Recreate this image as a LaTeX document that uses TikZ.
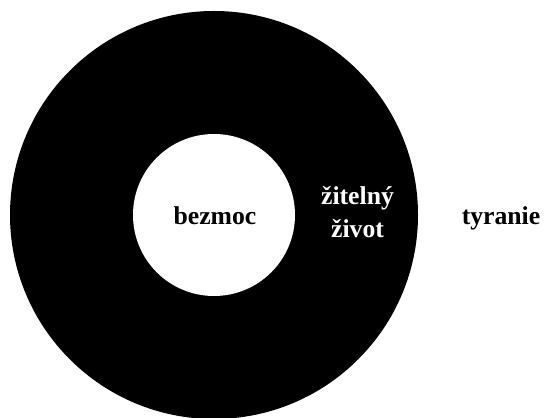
\documentclass[tikz,border=0pt]{standalone}
\usepackage{fontspec}
\setmainfont{Liberation Serif}
\begin{document}
\begin{tikzpicture}[x=1pt,y=1pt,
  label/.style={font=\fontsize{25.7}{33}\selectfont\bfseries, inner sep=0pt},
  ring/.style={fill=black, draw=none}]
\useasboundingbox (0,0) rectangle (545,417);
% outer disc and inner hole
\fill[ring] (214,202) circle[radius=204];
\fill[white] (214,202) circle[radius=81];
\node[label, anchor=base] (bezmoc) at (215,192) {bezmoc};
\node[label, anchor=base, text=white, align=center] (zivot) at (357.5,179) {žitelný\\život};
\node[label, anchor=base] (tyranie) at (501,192) {tyranie};
\end{tikzpicture}
\end{document}
